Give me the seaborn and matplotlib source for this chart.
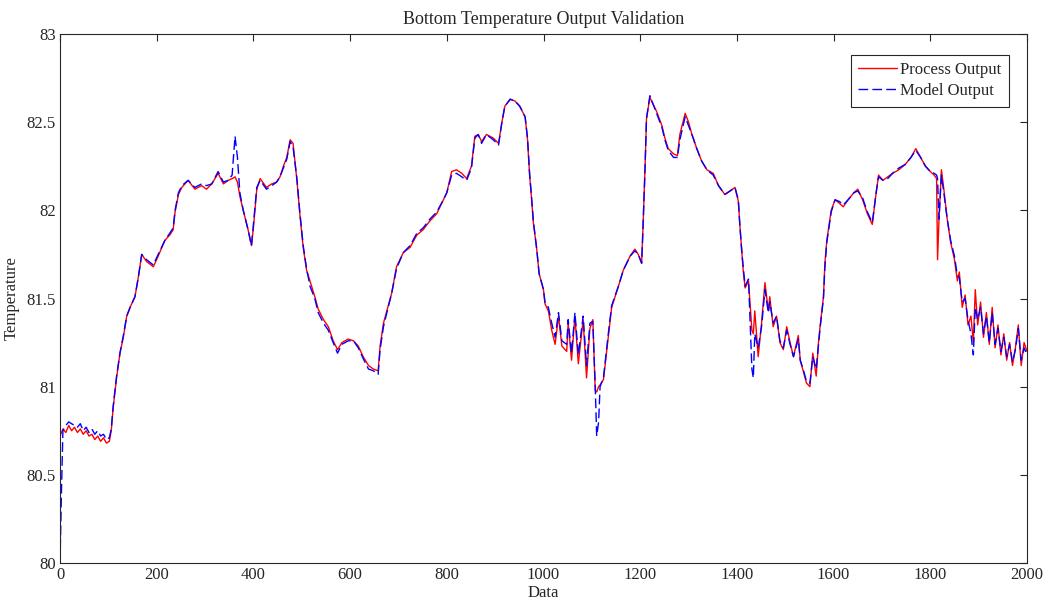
import matplotlib
matplotlib.use("Agg")
import matplotlib.pyplot as plt
import seaborn as sns
import pandas as pd

# sample index (irregular positions)
sample_x = [0, 3, 6, 12, 18, 24, 30, 36, 42, 48, 54, 60, 66, 72, 78, 84, 90, 96, 102, 106,
            110, 117, 124, 131, 138, 145, 155, 162, 169, 179, 193, 203, 217, 227, 234, 238, 245, 252, 265, 279,
            293, 303, 314, 327, 338, 348, 356, 362, 367, 372, 379, 389, 396, 400, 407, 414, 427, 438, 448, 455,
            462, 469, 476, 482, 490, 496, 503, 510, 517, 527, 534, 545, 555, 565, 574, 583, 596, 607, 617, 627,
            638, 648, 658, 662, 669, 676, 686, 696, 710, 724, 738, 751, 765, 779, 793, 800, 810, 820, 831, 841,
            851, 858, 865, 872, 882, 896, 907, 914, 920, 931, 941, 951, 962, 967, 971, 976, 979, 986, 991, 1000,
            1003, 1010, 1017, 1024, 1031, 1038, 1048, 1051, 1058, 1065, 1072, 1082, 1089, 1096, 1102, 1107, 1110, 1114, 1117, 1124,
            1134, 1141, 1155, 1165, 1179, 1189, 1196, 1203, 1206, 1210, 1213, 1220, 1227, 1234, 1245, 1251, 1258, 1269, 1277, 1282,
            1293, 1300, 1307, 1317, 1327, 1338, 1351, 1362, 1375, 1386, 1396, 1403, 1406, 1410, 1413, 1417, 1424, 1431, 1434, 1437,
            1444, 1451, 1458, 1465, 1468, 1475, 1482, 1489, 1496, 1503, 1510, 1517, 1527, 1531, 1537, 1544, 1551, 1557, 1564, 1569,
            1572, 1579, 1582, 1586, 1595, 1603, 1612, 1620, 1630, 1642, 1650, 1660, 1670, 1680, 1688, 1693, 1702, 1712, 1722, 1735,
            1748, 1760, 1770, 1780, 1790, 1800, 1808, 1813, 1815, 1818, 1823, 1828, 1835, 1842, 1850, 1856, 1860, 1866, 1872, 1878,
            1884, 1889, 1893, 1898, 1904, 1910, 1916, 1922, 1928, 1934, 1940, 1946, 1952, 1958, 1964, 1970, 1976, 1982, 1988, 1994,
            2000]

process_output = [80.72, 80.74, 80.76, 80.74, 80.78, 80.75, 80.77, 80.74, 80.76, 80.73, 80.75, 80.72, 80.73, 80.70, 80.72, 80.69, 80.71, 80.68, 80.69, 80.75,
                  80.88, 81.05, 81.19, 81.28, 81.40, 81.45, 81.51, 81.62, 81.75, 81.71, 81.68, 81.74, 81.83, 81.86, 81.89, 81.99, 82.09, 82.13, 82.17, 82.12,
                  82.14, 82.12, 82.15, 82.21, 82.15, 82.17, 82.18, 82.19, 82.16, 82.08, 82.00, 81.89, 81.80, 81.90, 82.12, 82.18, 82.13, 82.15, 82.16, 82.19,
                  82.25, 82.30, 82.40, 82.38, 82.17, 81.98, 81.79, 81.66, 81.60, 81.51, 81.44, 81.38, 81.34, 81.26, 81.21, 81.25, 81.27, 81.26, 81.23, 81.17,
                  81.12, 81.10, 81.09, 81.23, 81.36, 81.43, 81.53, 81.68, 81.76, 81.79, 81.86, 81.89, 81.94, 81.98, 82.06, 82.10, 82.22, 82.23, 82.21, 82.18,
                  82.25, 82.42, 82.43, 82.39, 82.43, 82.41, 82.38, 82.50, 82.59, 82.63, 82.62, 82.59, 82.53, 82.40, 82.21, 82.04, 81.93, 81.78, 81.64, 81.55,
                  81.47, 81.43, 81.32, 81.24, 81.40, 81.23, 81.20, 81.36, 81.15, 81.40, 81.13, 81.38, 81.05, 81.33, 81.38, 80.98, 80.97, 81.00, 81.01, 81.04,
                  81.28, 81.45, 81.57, 81.66, 81.74, 81.78, 81.75, 81.70, 81.92, 82.24, 82.52, 82.64, 82.60, 82.56, 82.48, 82.41, 82.35, 82.32, 82.31, 82.43,
                  82.55, 82.50, 82.43, 82.35, 82.28, 82.23, 82.21, 82.14, 82.09, 82.11, 82.13, 82.05, 81.92, 81.77, 81.66, 81.56, 81.60, 81.32, 81.30, 81.43,
                  81.17, 81.36, 81.59, 81.43, 81.51, 81.34, 81.40, 81.25, 81.21, 81.34, 81.25, 81.17, 81.29, 81.15, 81.09, 81.02, 81.00, 81.19, 81.06, 81.26,
                  81.34, 81.51, 81.70, 81.83, 82.00, 82.06, 82.04, 82.02, 82.06, 82.10, 82.12, 82.06, 81.98, 81.92, 82.10, 82.20, 82.17, 82.19, 82.21, 82.23,
                  82.26, 82.30, 82.35, 82.30, 82.25, 82.22, 82.20, 82.18, 81.72, 81.95, 82.23, 82.12, 81.95, 81.82, 81.72, 81.60, 81.65, 81.45, 81.52, 81.35,
                  81.40, 81.25, 81.55, 81.35, 81.48, 81.28, 81.42, 81.24, 81.45, 81.22, 81.35, 81.18, 81.30, 81.15, 81.25, 81.12, 81.22, 81.35, 81.12, 81.25,
                  81.20]

model_output = [80.00, 80.40, 80.75, 80.78, 80.80, 80.79, 80.78, 80.77, 80.79, 80.75, 80.77, 80.74, 80.76, 80.73, 80.75, 80.72, 80.73, 80.70, 80.71, 80.76,
                80.89, 81.06, 81.19, 81.29, 81.40, 81.45, 81.51, 81.62, 81.75, 81.72, 81.69, 81.75, 81.83, 81.87, 81.90, 82.00, 82.10, 82.14, 82.17, 82.13,
                82.15, 82.14, 82.15, 82.22, 82.16, 82.17, 82.20, 82.42, 82.30, 82.10, 82.00, 81.89, 81.80, 81.92, 82.13, 82.17, 82.12, 82.14, 82.16, 82.19,
                82.24, 82.29, 82.39, 82.36, 82.18, 81.99, 81.80, 81.67, 81.57, 81.50, 81.42, 81.36, 81.32, 81.25, 81.19, 81.24, 81.26, 81.26, 81.22, 81.16,
                81.10, 81.09, 81.07, 81.21, 81.34, 81.42, 81.53, 81.67, 81.76, 81.80, 81.87, 81.90, 81.95, 81.99, 82.06, 82.10, 82.20, 82.21, 82.19, 82.17,
                82.24, 82.41, 82.43, 82.38, 82.43, 82.40, 82.37, 82.50, 82.59, 82.63, 82.62, 82.59, 82.53, 82.41, 82.22, 82.05, 81.94, 81.78, 81.64, 81.55,
                81.48, 81.45, 81.36, 81.28, 81.42, 81.26, 81.24, 81.38, 81.19, 81.42, 81.18, 81.40, 81.12, 81.36, 81.37, 81.00, 80.72, 80.80, 81.00, 81.05,
                81.30, 81.46, 81.57, 81.66, 81.74, 81.77, 81.75, 81.70, 81.92, 82.24, 82.52, 82.65, 82.60, 82.55, 82.47, 82.40, 82.34, 82.30, 82.30, 82.40,
                82.53, 82.48, 82.43, 82.35, 82.28, 82.23, 82.20, 82.14, 82.09, 82.11, 82.13, 82.06, 81.92, 81.77, 81.68, 81.57, 81.61, 81.10, 81.05, 81.30,
                81.22, 81.34, 81.55, 81.42, 81.48, 81.36, 81.40, 81.26, 81.22, 81.32, 81.24, 81.17, 81.27, 81.15, 81.10, 81.03, 81.02, 81.17, 81.10, 81.24,
                81.33, 81.50, 81.68, 81.82, 81.99, 82.06, 82.05, 82.03, 82.06, 82.10, 82.11, 82.07, 81.99, 81.93, 82.10, 82.19, 82.17, 82.18, 82.21, 82.24,
                82.26, 82.30, 82.34, 82.30, 82.25, 82.22, 82.21, 82.20, 82.18, 81.95, 82.20, 82.10, 81.95, 81.83, 81.74, 81.63, 81.62, 81.48, 81.50, 81.38,
                81.30, 81.18, 81.45, 81.38, 81.45, 81.30, 81.40, 81.25, 81.42, 81.24, 81.33, 81.20, 81.28, 81.17, 81.24, 81.14, 81.21, 81.33, 81.15, 81.22,
                81.18]

x_ticks = [0, 200, 400, 600, 800, 1000, 1200, 1400, 1600, 1800, 2000]
y_ticks = [80, 80.5, 81, 81.5, 82, 82.5, 83]
y_tick_labels = ["80", "80.5", "81", "81.5", "82", "82.5", "83"]

sns.set_style("white")
plt.rcParams['font.family'] = ['Liberation Serif', 'DejaVu Serif']

df = pd.DataFrame({"Data": sample_x, "Process Output": process_output, "Model Output": model_output})

fig = plt.figure(figsize=(10.49, 6.0), dpi=100)
ax = fig.add_axes([60 / 1049, 1 - 563 / 600, (1027 - 60) / 1049, (563 - 34) / 600])

sns.lineplot(data=df, x="Data", y="Process Output", ax=ax, color="#ff0000", linewidth=1.0,
             label="Process Output")
sns.lineplot(data=df, x="Data", y="Model Output", ax=ax, color="#0000ff", linewidth=1.0,
             label="Model Output", dashes=False)
ax.lines[1].set_dashes([7, 3])

ax.set_xlim(0, 2000)
ax.set_ylim(80, 83)
ax.set_xticks(x_ticks)
ax.set_yticks(y_ticks)
ax.set_yticklabels(y_tick_labels)
ax.tick_params(direction="in", length=5, width=0.8, top=True, right=True, labelsize=12,
               colors="#262626", pad=3)
for s in ax.spines.values():
    s.set_color("#262626")
    s.set_linewidth(0.8)

ax.set_title("Bottom Temperature Output Validation", fontsize=13, pad=7)
ax.set_xlabel("Data", fontsize=12, labelpad=1)
ax.set_ylabel("Temperature", fontsize=12, labelpad=5)

leg = ax.legend(loc="upper right", bbox_to_anchor=(0.981, 0.961), fontsize=12, frameon=True,
                fancybox=False, edgecolor="#262626", framealpha=1, handlelength=2.3,
                borderpad=0.45, labelspacing=0.3, handletextpad=0.2, borderaxespad=0.0)
leg.get_frame().set_linewidth(0.8)

fig.savefig("out.png", dpi=100)
